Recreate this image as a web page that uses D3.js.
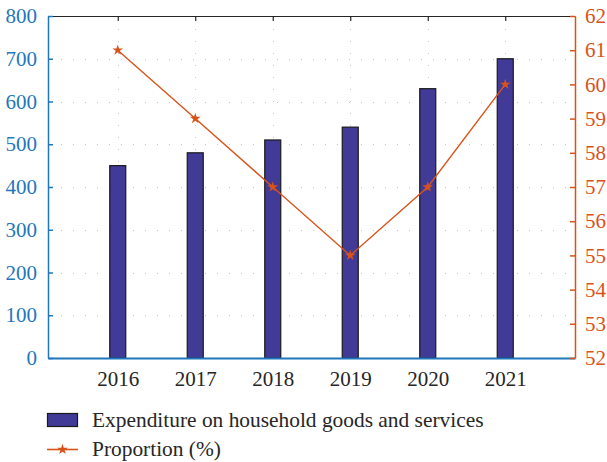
<!DOCTYPE html>
<html>
<head>
<meta charset="utf-8">
<script src="https://cdn.jsdelivr.net/npm/d3@7"></script>
<style>
  html, body { margin: 0; padding: 0; background: #fff; }
  svg { display: block; }
</style>
</head>
<body>
<svg id="chart" width="607" height="462"></svg>
<script>
// Household expenditure (bars, left axis) and its share (line, right axis)
const years = [2016, 2017, 2018, 2019, 2020, 2021];
const expenditure = [450, 480, 510, 540, 630, 700];
const proportion = [61, 59, 57, 55, 57, 60];
const leftTicks = [0, 100, 200, 300, 400, 500, 600, 700, 800];
const rightTicks = [52, 53, 54, 55, 56, 57, 58, 59, 60, 61, 62];
const seriesNames = ["Expenditure on household goods and services", "Proportion (%)"];

const FONT = "'Liberation Serif'";
const colBar = "#413a96";
const colLine = "#d95319";
const colLeft = "#1f77bd";
const colText = "#262626";

const svg = d3.select("#chart");
const m = { left: 48, right: 575, top: 16, bottom: 358 };

const x = d3.scaleLinear().domain([2015.1, 2021.9]).range([m.left, m.right]);
const yL = d3.scaleLinear().domain([0, 800]).range([m.bottom, m.top]);
const yR = d3.scaleLinear().domain([52, 62]).range([m.bottom, m.top]);

function serif(sel, size) {
  sel.attr("font-family", null).style("font-family", FONT).style("font-size", size + "px");
}

// dotted grid
const grid = svg.append("g").attr("stroke", "#c8c8c8").attr("stroke-width", 1)
  .attr("stroke-dasharray", "1,11");
grid.selectAll("line.h").data(leftTicks.slice(1, -1)).join("line")
  .attr("x1", m.left + 1).attr("x2", m.right)
  .attr("y1", d => Math.round(yL(d)) + 0.5).attr("y2", d => Math.round(yL(d)) + 0.5);
grid.selectAll("line.v").data(years).join("line")
  .attr("x1", d => Math.round(x(d)) + 0.5).attr("x2", d => Math.round(x(d)) + 0.5)
  .attr("y1", m.top + 1).attr("y2", m.bottom);

// bars
const barW = 16;
svg.append("g").selectAll("rect").data(years).join("rect")
  .attr("x", (d, i) => x(d) - barW / 2)
  .attr("y", (d, i) => yL(expenditure[i]))
  .attr("width", barW)
  .attr("height", (d, i) => yL(0) - yL(expenditure[i]))
  .attr("fill", colBar).attr("stroke", "#1a1a1a").attr("stroke-width", 1.2);

// top frame line with inward ticks
const topAxis = d3.axisTop(x).tickValues(years).tickSizeInner(-5).tickSizeOuter(0).tickFormat("");
const gTop = svg.append("g").attr("transform", `translate(0,${m.top})`).call(topAxis);
gTop.selectAll("path,line").attr("stroke", colText).attr("stroke-width", 1.2);

// bottom axis
const bottomAxis = d3.axisBottom(x).tickValues(years).tickSize(0).tickPadding(13).tickFormat(d3.format("d"));
const gBot = svg.append("g").attr("transform", `translate(0,${m.bottom})`).call(bottomAxis);
serif(gBot, 21);
gBot.select(".domain").attr("stroke", colLeft).attr("stroke-width", 2);
gBot.selectAll("text").attr("fill", colText);

// left axis
const leftAxis = d3.axisLeft(yL).tickValues(leftTicks).tickSizeInner(-5).tickSizeOuter(0).tickPadding(11);
const gL = svg.append("g").attr("transform", `translate(${m.left},0)`).call(leftAxis);
serif(gL, 21);
gL.selectAll("path,line").attr("stroke", colLeft).attr("stroke-width", 1.5);
gL.selectAll("text").attr("fill", colLeft);

// right axis
const rightAxis = d3.axisRight(yR).tickValues(rightTicks).tickSizeInner(-5).tickSizeOuter(0).tickPadding(10);
const gR = svg.append("g").attr("transform", `translate(${m.right},0)`).call(rightAxis);
serif(gR, 21);
gR.selectAll("path,line").attr("stroke", colLine).attr("stroke-width", 1.5);
gR.selectAll("text").attr("fill", colLine);

// proportion line with star markers
const line = d3.line().x((d, i) => x(years[i])).y(d => yR(d));
svg.append("path").datum(proportion).attr("d", line)
  .attr("fill", "none").attr("stroke", colLine).attr("stroke-width", 1.4);
const star = d3.symbol().type(d3.symbolStar).size(36);
svg.append("g").selectAll("path").data(proportion).join("path")
  .attr("d", star)
  .attr("transform", (d, i) => `translate(${x(years[i])},${yR(d)})`)
  .attr("fill", colLine);

// legend
const lg = svg.append("g").attr("fill", colText);
serif(lg, 21.4);
lg.append("rect").attr("x", 47.5).attr("y", 413.5).attr("width", 30).attr("height", 13)
  .attr("fill", colBar).attr("stroke", "#1a1a1a").attr("stroke-width", 1.2);
lg.append("text").attr("x", 92).attr("y", 427).text(seriesNames[0]);
lg.append("line").attr("x1", 47).attr("x2", 78).attr("y1", 449.5).attr("y2", 449.5)
  .attr("stroke", colLine).attr("stroke-width", 1.6);
lg.append("path").attr("d", star).attr("transform", "translate(62.5,449.5)").attr("fill", colLine);
lg.append("text").attr("x", 92).attr("y", 456).text(seriesNames[1]);
</script>
</body>
</html>
